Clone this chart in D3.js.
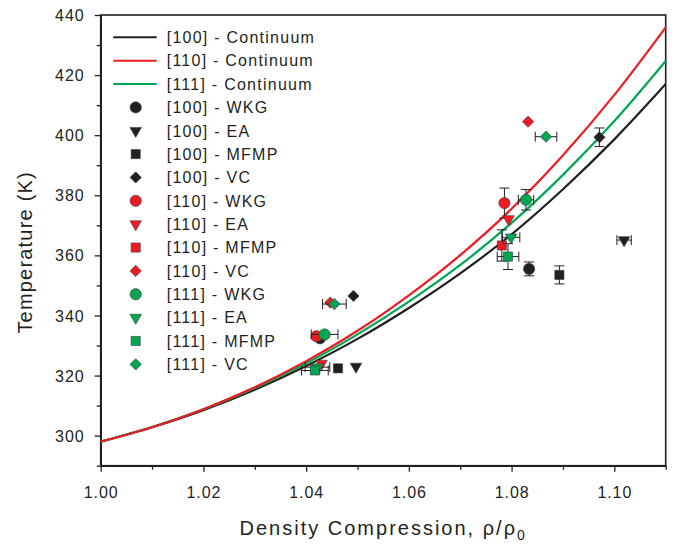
<!DOCTYPE html>
<html>
<head>
<meta charset="utf-8">
<script src="https://cdn.jsdelivr.net/npm/d3@7"></script>
<style>
  body { margin: 0; background: #fff; }
  text { font-family: "Liberation Sans", Arial, sans-serif; fill: #231f20; }
</style>
</head>
<body>
<svg id="chart" width="675" height="551"></svg>
<script>
// continuum curves
var curveRho = [1.00, 1.01, 1.02, 1.03, 1.04, 1.05, 1.06, 1.07, 1.08, 1.09, 1.10, 1.11];
var cont100 = [298, 302.8, 308.5, 315.3, 323.2, 332.2, 342.5, 354.0, 367.0, 382.0, 398.6, 417.0];
var cont110 = [298, 302.8, 308.8, 316.1, 324.8, 334.9, 346.7, 360.1, 375.5, 393.3, 413.4, 435.9];
var cont111 = [298, 302.9, 308.8, 315.9, 324.1, 333.7, 344.6, 356.8, 370.8, 386.8, 404.7, 424.7];
var curveLabels = ["[100] - Continuum", "[110] - Continuum", "[111] - Continuum"];

// simulation points: two shocks per series
var pointLabels = ["[100] - WKG", "[100] - EA", "[100] - MFMP", "[100] - VC",
                   "[110] - WKG", "[110] - EA", "[110] - MFMP", "[110] - VC",
                   "[111] - WKG", "[111] - EA", "[111] - MFMP", "[111] - VC"];
var pointRho = [[1.0427, 1.0834], [1.0497, 1.1019], [1.0462, 1.0893], [1.0492, 1.0971],
                [1.0420, 1.0786], [1.0430, 1.0794], [1.0418, 1.0781], [1.0447, 1.0832],
                [1.0436, 1.0828], [1.0422, 1.0799], [1.0417, 1.0793], [1.0455, 1.0867]];
var pointTemp = [[332.4, 355.5], [323.0, 365.1], [322.4, 353.5], [346.5, 399.3],
                 [333.1, 377.4], [324.0, 372.1], [322.0, 363.3], [344.3, 404.5],
                 [333.7, 378.5], [322.8, 366.0], [321.7, 359.6], [343.8, 399.5]];
var rhoErr = [[0, 0], [0, 0.0014], [0, 0], [0, 0],
              [0, 0], [0, 0], [0, 0], [0, 0],
              [0.0026, 0.0015], [0.0024, 0.0017], [0.0026, 0.0021], [0.0023, 0.0021]];
var tempErr = [[0, 2.3], [0, 0], [0, 3.0], [0, 3.1],
               [0, 5.0], [0, 0], [0, 5.2], [0, 0],
               [0, 3.4], [0, 0], [0, 4.3], [0, 0]];

var xTicks = [1.00, 1.02, 1.04, 1.06, 1.08, 1.10];
var yTicks = [300, 320, 340, 360, 380, 400, 420, 440];

var colBlack = '#231f20';
var colRed = '#ed1c24';
var colGreen = '#00a651';
var orientColor = { '[100]': colBlack, '[110]': colRed, '[111]': colGreen };

var margin = { left: 100.7, top: 15, right: 9.3, bottom: 85.3 };
var width = 675 - margin.left - margin.right;
var height = 551 - margin.top - margin.bottom;

var svg = d3.select('#chart');
var g = svg.append('g').attr('transform', 'translate(' + margin.left + ',' + margin.top + ')');

var x = d3.scaleLinear().domain([1.00, 1.11]).range([0, width]);
var y = d3.scaleLinear().domain([290, 440]).range([height, 0]);

function symbolPath(method) {
  if (method === 'WKG') return d3.symbol().type(d3.symbolCircle).size(100)();
  if (method === 'EA') return d3.symbol().type(d3.symbolTriangle).size(58)();
  if (method === 'MFMP') return d3.symbol().type(d3.symbolSquare).size(84)();
  return d3.symbol().type(d3.symbolSquare).size(64)();
}
function symbolRotate(method) {
  if (method === 'EA') return ' rotate(180)';
  if (method === 'VC') return ' rotate(45)';
  return '';
}

// axes
var xAxis = d3.axisBottom(x).tickValues(xTicks).tickFormat(d3.format('.2f')).tickSize(6).tickSizeOuter(0);
var yAxis = d3.axisLeft(y).tickValues(yTicks).tickFormat(d3.format('d')).tickSize(6).tickSizeOuter(0);

var gx = g.append('g').attr('transform', 'translate(0,' + height + ')').call(xAxis);
var gy = g.append('g').call(yAxis);

// minor ticks
g.append('g').attr('transform', 'translate(0,' + height + ')')
  .call(d3.axisBottom(x).tickValues(d3.range(1.01, 1.11, 0.02)).tickFormat('').tickSize(4).tickSizeOuter(0))
  .select('.domain').remove();
g.append('g')
  .call(d3.axisLeft(y).tickValues(d3.range(290, 440, 20)).tickFormat('').tickSize(4).tickSizeOuter(0))
  .select('.domain').remove();

g.selectAll('.tick line').attr('stroke', colBlack).attr('stroke-width', 1.3);
g.selectAll('.domain').attr('stroke', colBlack).attr('stroke-width', 1.6);
gx.selectAll('.tick text').attr('font-size', 16).attr('letter-spacing', 0.9).attr('y', 16).attr('dy', '1.05em').attr('fill', colBlack);
gy.selectAll('.tick text').attr('font-size', 16).attr('letter-spacing', 1).attr('x', -16).attr('dy', '0.35em').attr('fill', colBlack);

// frame
g.append('rect').attr('width', width).attr('height', height)
  .attr('fill', 'none').attr('stroke', colBlack).attr('stroke-width', 1.6);

// axis titles
var xt = svg.append('text')
  .attr('x', margin.left + width / 2).attr('y', 535)
  .attr('text-anchor', 'middle').attr('font-size', 20).attr('letter-spacing', 2);
xt.append('tspan').text('Density Compression, \u03c1/\u03c1');
xt.append('tspan').attr('font-size', 14).attr('dy', 5).text('0');

svg.append('text')
  .attr('transform', 'translate(32,' + (margin.top + height / 2 + 12) + ') rotate(-90)')
  .attr('text-anchor', 'middle').attr('font-size', 20).attr('letter-spacing', 1.2)
  .text('Temperature (K)');

// continuum lines
var line = d3.line()
  .x(function (d, i) { return x(curveRho[i]); })
  .y(function (d) { return y(d); })
  .curve(d3.curveMonotoneX);

var plot = g.append('g');
[cont100, cont111, cont110].forEach(function (c) {
  var col = c === cont100 ? colBlack : (c === cont110 ? colRed : colGreen);
  plot.append('path').attr('d', line(c)).attr('fill', 'none')
    .attr('stroke', col).attr('stroke-width', 2.2);
});

// points with error bars
var capW = 5;
pointLabels.forEach(function (label, s) {
  var orient = label.slice(0, 5);
  var method = label.split(' - ')[1];
  var col = orientColor[orient];
  var grp = plot.append('g');
  pointRho[s].forEach(function (r, k) {
    var t = pointTemp[s][k];
    var cx = x(r), cy = y(t);
    var ex = rhoErr[s][k], ey = tempErr[s][k];
    if (ex > 0) {
      var x0 = x(r - ex), x1 = x(r + ex);
      grp.append('path')
        .attr('d', 'M' + x0 + ',' + cy + 'H' + x1 +
                   'M' + x0 + ',' + (cy - capW) + 'V' + (cy + capW) +
                   'M' + x1 + ',' + (cy - capW) + 'V' + (cy + capW))
        .attr('stroke', colBlack).attr('stroke-width', 1).attr('fill', 'none');
    }
    if (ey > 0) {
      var y0 = y(t - ey), y1 = y(t + ey);
      grp.append('path')
        .attr('d', 'M' + cx + ',' + y0 + 'V' + y1 +
                   'M' + (cx - capW) + ',' + y0 + 'H' + (cx + capW) +
                   'M' + (cx - capW) + ',' + y1 + 'H' + (cx + capW))
        .attr('stroke', colBlack).attr('stroke-width', 1).attr('fill', 'none');
    }
    grp.append('path')
      .attr('d', symbolPath(method))
      .attr('transform', 'translate(' + cx + ',' + cy + ')' + symbolRotate(method))
      .attr('fill', col).attr('stroke', '#3a3a3a').attr('stroke-width', 0.6);
  });
});

// legend
var legend = g.append('g');
var rowH = 23.36;
var rowY0 = 37.3 - margin.top;
var legX = 113.3 - margin.left;
curveLabels.forEach(function (label, i) {
  var col = [colBlack, colRed, colGreen][i];
  var yy = rowY0 + i * rowH;
  legend.append('line').attr('x1', legX).attr('x2', legX + 43.4)
    .attr('y1', yy).attr('y2', yy).attr('stroke', col).attr('stroke-width', 2);
  legend.append('text').attr('x', 166.7 - margin.left).attr('y', yy).attr('dy', '0.36em')
    .attr('font-size', 16).attr('letter-spacing', 1.25).text(label);
});
pointLabels.forEach(function (label, s) {
  var method = label.split(' - ')[1];
  var col = orientColor[label.slice(0, 5)];
  var yy = rowY0 + (s + 3) * rowH;
  legend.append('path').attr('d', symbolPath(method))
    .attr('transform', 'translate(' + (135.7 - margin.left) + ',' + yy + ')' + symbolRotate(method))
    .attr('fill', col).attr('stroke', '#3a3a3a').attr('stroke-width', 0.6);
  legend.append('text').attr('x', 166.7 - margin.left).attr('y', yy).attr('dy', '0.36em')
    .attr('font-size', 16).attr('letter-spacing', 1.25).text(label);
});
</script>
</body>
</html>
